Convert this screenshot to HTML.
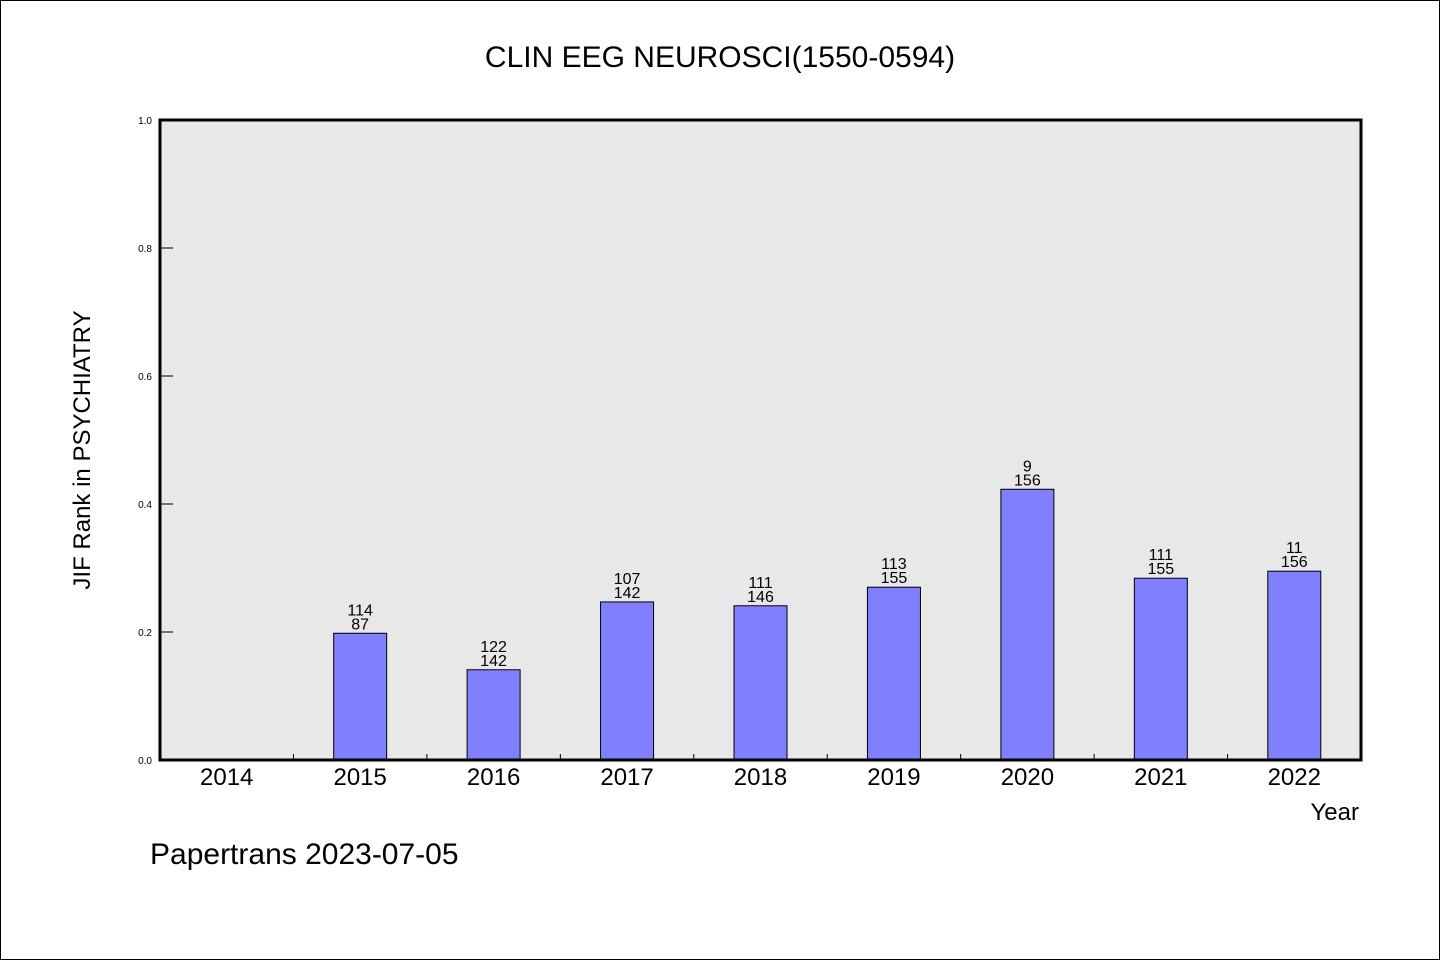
<!DOCTYPE html>
<html><head><meta charset="utf-8"><style>
body{margin:0;background:#fff}
svg text{font-family:"WenQuanYi Zen Hei","Liberation Sans",sans-serif;fill:#000}
</style></head><body>
<svg width="1440" height="960" xmlns="http://www.w3.org/2000/svg">
<rect x="0.5" y="0.5" width="1439" height="959" fill="#fff" stroke="#000"/>
<text x="720" y="67" font-size="30" text-anchor="middle">CLIN EEG NEUROSCI(1550-0594)</text>
<rect x="160" y="120" width="1201" height="640" fill="#e8e8e8"/>
<g id="marks"></g>
<rect x="160" y="120" width="1201" height="640" fill="none" stroke="#000" stroke-width="3"/>
<text x="90" y="450" font-size="24" text-anchor="middle" transform="rotate(-90 90 450)">JIF Rank in PSYCHIATRY</text>
<text x="1359" y="820" font-size="24" text-anchor="end">Year</text>
<text x="150" y="864" font-size="30">Papertrans 2023-07-05</text>
</svg>
<script>
const categories=["2014","2015","2016","2017","2018","2019","2020","2021","2022"];
const values=[null,0.198,0.141,0.247,0.241,0.270,0.423,0.284,0.295];
const ranks=["","114","122","107","111","113","9","111","11"];
const totals=["","87","142","142","146","155","156","155","156"];
const yTicks=[0,0.2,0.4,0.6,0.8,1.0];
const yTickLabels=["0.0","0.2","0.4","0.6","0.8","1.0"];
const NS="http://www.w3.org/2000/svg";
const L=160,R=1361,T=120,B=760;
const step=(R-L)/categories.length;
const x=i=>L+step*(i+0.5);
const y=v=>B-(B-T)*v;
const g=document.getElementById('marks');
function mk(t,a){const e=document.createElementNS(NS,t);for(const k in a)e.setAttribute(k,a[k]);g.appendChild(e);return e;}
yTicks.forEach((v,i)=>{
 const l=mk('line',{x1:L,x2:L+13,y1:y(v),y2:y(v),stroke:'#000','stroke-width':1});
 
 
 const t=mk('text',{x:152,y:y(v)+4,'font-size':10,'text-anchor':'end'});
 t.textContent=yTickLabels[i];
 
 
});
for(let i=1;i<categories.length;i++){
 const l=mk('line',{x1:L+step*i,x2:L+step*i,y1:B,y2:B-6,stroke:'#000','stroke-width':1});
 
 
}
categories.forEach((c,i)=>{
 const t=mk('text',{x:x(i),y:785,'font-size':24,'text-anchor':'middle'});
 t.textContent=c;
 
 
 const v=values[i];
 if(v==null)return;
 const r=mk('rect',{x:x(i)-26.5,y:y(v),width:53,height:B-y(v),fill:'#8080ff',stroke:'#000','stroke-width':1});
 
 
 const a=mk('text',{x:x(i),y:y(v)-18,'font-size':16,'text-anchor':'middle'});
 a.textContent=ranks[i];
 
 
 const b=mk('text',{x:x(i),y:y(v)-4,'font-size':16,'text-anchor':'middle'});
 b.textContent=totals[i];
 
 
});
</script>
</body></html>
